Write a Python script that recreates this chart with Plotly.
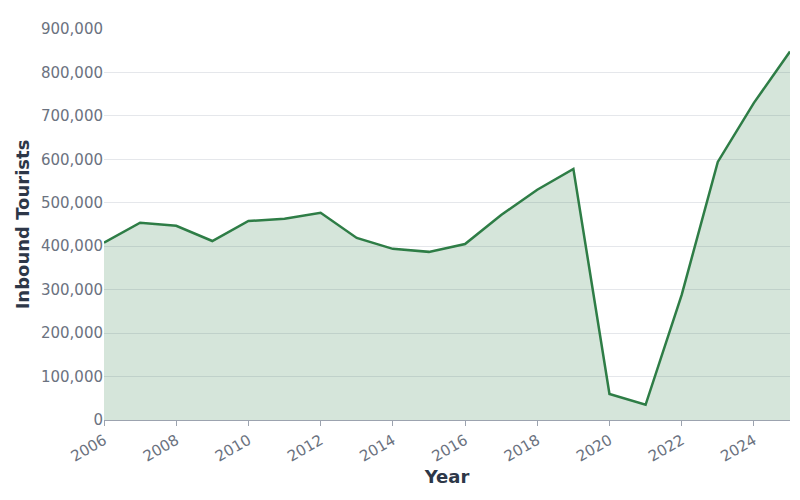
import plotly.graph_objects as go

years = list(range(2006, 2026))
tourists = [408000, 454000, 447000, 412000, 458000, 463000, 477000, 419000, 394000, 387000,
            405000, 472000, 530000, 578000, 60000, 35000, 288000, 594000, 730000, 848000]

fig = go.Figure(go.Scatter(
    x=years, y=tourists, mode="lines", fill="tozeroy",
    line=dict(color="#2e7d46", width=2.5),
    fillcolor="rgba(46,125,70,0.2)",
))
fig.update_layout(
    width=800, height=500,
    margin=dict(l=96, r=18, t=21, b=88),
    plot_bgcolor="white", paper_bgcolor="white",
    font=dict(family="DejaVu Sans", color="#6b7280", size=15),
    showlegend=False,
)
fig.update_xaxes(
    range=[2006, 2025], dtick=2, tickangle=-30,
    title=dict(text="Year", standoff=4, font=dict(size=18, color="#2d3748", weight="bold")),
    showgrid=False, showline=True, linecolor="#9ca3af", ticks="outside", tickcolor="#9ca3af",
)
fig.update_yaxes(
    range=[0, 900000], dtick=100000, tickformat=",",
    title=dict(text="Inbound Tourists", standoff=6, font=dict(size=18, color="#2d3748", weight="bold")),
    gridcolor="#e5e7eb", zeroline=False,
)
fig.write_html("out.html")
